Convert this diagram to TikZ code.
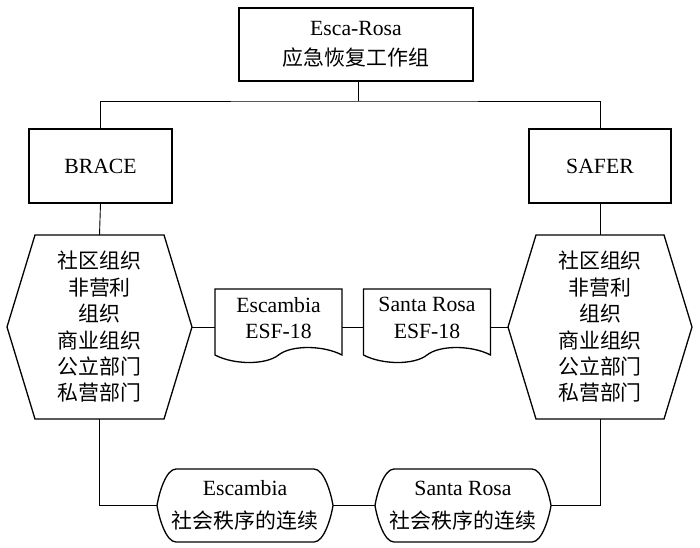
\documentclass[tikz,border=0pt]{standalone}
\usepackage{fontspec}
\setmainfont{Liberation Serif}
\newfontfamily\cjk[Scale=0.963]{Noto Sans CJK SC}
\begin{document}
\begin{tikzpicture}[x=1pt,y=-1pt,
  box/.style={draw,line width=1.3pt,inner sep=0pt,align=center},
  blank/.style={inner sep=0pt,outer sep=0pt,align=center},
  outline/.style={line width=1.3pt,line join=miter},
  link/.style={line width=0.9pt},
  txt/.style={font=\fontsize{21.7}{#1}\selectfont}]
\useasboundingbox (0,0) rectangle (700,547);

% top box
\node[box,minimum width=234,minimum height=73,txt=30] (top) at (356,44.5)
  {Esca-Rosa\\{\cjk 应急恢复工作组}};
% level 2
\node[box,minimum width=143,minimum height=74,txt=26] (brace) at (100.5,166) {BRACE};
\node[box,minimum width=142,minimum height=74,txt=26] (safer) at (600,166) {SAFER};

% hexagons
\node[blank,minimum width=185,minimum height=184,txt=26.4] (hexL) at (99.5,327)
  {\cjk 社区组织\\\cjk 非营利\\\cjk 组织\\\cjk 商业组织\\\cjk 公立部门\\\cjk 私营部门};
\node[blank,minimum width=184,minimum height=184,txt=26.4] (hexR) at (600,327)
  {\cjk 社区组织\\\cjk 非营利\\\cjk 组织\\\cjk 商业组织\\\cjk 公立部门\\\cjk 私营部门};
\begin{scope}[shift={(hexL.north west)}]
  \draw[outline] (28,0) -- (157,0) -- (185,92) -- (157,184) -- (28,184) -- (0,92) -- cycle;
\end{scope}
\begin{scope}[shift={(hexR.north west)}]
  \draw[outline] (28,0) -- (156,0) -- (184,92) -- (156,184) -- (28,184) -- (0,92) -- cycle;
\end{scope}

% documents
\node[blank,minimum width=127,minimum height=58,txt=26.5] (escD) at (278.5,318)
  {Escambia\\ESF-18};
\node[blank,minimum width=127,minimum height=58,txt=26.5] (srD) at (427,318)
  {Santa Rosa\\ESF-18};
\begin{scope}[shift={(escD.north west)}]
  \draw[outline] (0,0) -- (127,0) -- (127,66) .. controls (108,56) and (76,56) .. (63.5,66)
    .. controls (51,76) and (19,76) .. (0,66) -- cycle;
\end{scope}
\begin{scope}[shift={(srD.north west)}]
  \draw[outline] (0,0) -- (127,0) -- (127,66) .. controls (108,56) and (76,56) .. (63.5,66)
    .. controls (51,76) and (19,76) .. (0,66) -- cycle;
\end{scope}

% terminals
\node[blank,minimum width=176,minimum height=73,txt=33] (escT) at (245,505.5)
  {Escambia\\{\cjk 社会秩序的连续}};
\node[blank,minimum width=176,minimum height=73,txt=33] (srT) at (463,505.5)
  {Santa Rosa\\{\cjk 社会秩序的连续}};
\foreach \n in {escT,srT}{
  \begin{scope}[shift={(\n.north west)}]
    \draw[outline] (19,0) -- (157,0) .. controls (167,0) and (174,24) .. (176,36.5)
      .. controls (174,49) and (167,73) .. (157,73) -- (19,73)
      .. controls (9,73) and (2,49) .. (0,36.5) .. controls (2,24) and (9,0) .. (19,0) -- cycle;
  \end{scope}
}

% connectors
\coordinate (bus) at (358,101);
\draw[link] (top.south -| bus) -- (bus);
\draw[link] (brace.north) |- (bus) -| (safer.north);
\draw[link] (brace.south) -- (hexL.north);
\draw[link] (safer.south) -- (hexR.north);
\draw[link] (hexL.east) -- (hexL.east -| escD.west);
\draw[link] (escD.east |- hexL.east) -- (srD.west |- hexL.east);
\draw[link] (srD.east |- hexR.west) -- (hexR.west);
\draw[link] (hexL.south) |- (escT.west);
\draw[link] (escT.east) -- (srT.west);
\draw[link] (srT.east) -| (hexR.south);
\end{tikzpicture}
\end{document}
